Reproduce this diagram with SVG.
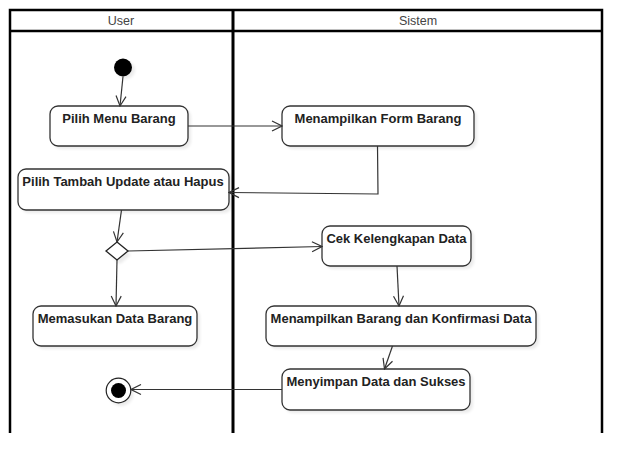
<svg xmlns="http://www.w3.org/2000/svg" width="642" height="474" viewBox="0 0 642 474">
<style>
.lane{fill:none;stroke:#000;stroke-width:2.5}
.hdr{font-family:"Liberation Sans",Arial,sans-serif;font-size:12.5px;fill:#444;text-anchor:middle}
.act{fill:#fff;stroke:#333;stroke-width:1.3}
.shadow{fill:#000;opacity:0.08}
.lbl{font-family:"Liberation Sans",Arial,sans-serif;font-size:13px;font-weight:bold;fill:#222;text-anchor:middle}
.edge{fill:none;stroke:#333;stroke-width:1.2;marker-end:url(#arr)}
</style>
<defs>
<marker id="arr" viewBox="0 0 12 12" refX="11" refY="6" markerWidth="12" markerHeight="12" markerUnits="userSpaceOnUse" orient="auto">
<path d="M1,1 L11,6 L1,11" fill="none" stroke="#333" stroke-width="1.2"/>
</marker>
<filter id="blur" x="-20%" y="-20%" width="140%" height="140%"><feGaussianBlur stdDeviation="1.5"/></filter>
</defs>
<rect width="642" height="474" fill="#fff"/>
<g id="swimlanes">
<path class="lane" d="M10,433 V10 H602 V433 M10,31 H602"/>
<line x1="233" y1="10" x2="233" y2="433" stroke="#000" stroke-width="3"/>
<text class="hdr" x="121" y="25">User</text>
<text class="hdr" x="418" y="25">Sistem</text>
</g>
<g id="start">
<circle cx="126" cy="70" r="9" fill="#000" opacity="0.08" filter="url(#blur)"/>
<circle cx="123" cy="67.5" r="9" fill="#000"/>
</g>
<g id="pilih-menu">
<rect class="shadow" x="53" y="109" width="138" height="40" rx="8" filter="url(#blur)"/>
<rect class="act" x="50" y="106" width="138" height="40" rx="8"/>
<text class="lbl" x="119" y="123">Pilih Menu Barang</text>
</g>
<g id="form-barang">
<rect class="shadow" x="285" y="109" width="192" height="40" rx="8" filter="url(#blur)"/>
<rect class="act" x="282" y="106" width="192" height="40" rx="8"/>
<text class="lbl" x="378" y="123">Menampilkan Form Barang</text>
</g>
<g id="pilih-tambah">
<rect class="shadow" x="21" y="172" width="211" height="41" rx="8" filter="url(#blur)"/>
<rect class="act" x="18" y="169" width="211" height="41" rx="8"/>
<text class="lbl" x="123" y="186">Pilih Tambah Update atau Hapus</text>
</g>
<g id="decision">
<path d="M120,246 L131,255 L120,264 L109,255 Z" fill="#000" opacity="0.08" filter="url(#blur)"/>
<path d="M117,242 L128,251 L117,260 L106,251 Z" fill="#fff" stroke="#222" stroke-width="1.3"/>
</g>
<g id="cek-data">
<rect class="shadow" x="325" y="229" width="149" height="40" rx="8" filter="url(#blur)"/>
<rect class="act" x="322" y="226" width="149" height="40" rx="8"/>
<text class="lbl" x="396.5" y="243">Cek Kelengkapan Data</text>
</g>
<g id="memasukan">
<rect class="shadow" x="36" y="309" width="164" height="40" rx="8" filter="url(#blur)"/>
<rect class="act" x="33" y="306" width="164" height="40" rx="8"/>
<text class="lbl" x="115" y="323">Memasukan Data Barang</text>
</g>
<g id="konfirmasi">
<rect class="shadow" x="269" y="309" width="270" height="40" rx="8" filter="url(#blur)"/>
<rect class="act" x="266" y="306" width="270" height="40" rx="8"/>
<text class="lbl" x="401" y="323">Menampilkan Barang dan Konfirmasi Data</text>
</g>
<g id="menyimpan">
<rect class="shadow" x="285" y="372" width="188" height="41" rx="8" filter="url(#blur)"/>
<rect class="act" x="282" y="369" width="188" height="41" rx="8"/>
<text class="lbl" x="376" y="386">Menyimpan Data dan Sukses</text>
</g>
<g id="end">
<circle cx="121" cy="393.5" r="12.5" fill="#000" opacity="0.08" filter="url(#blur)"/>
<circle cx="118.5" cy="390.5" r="12.3" fill="#fff" stroke="#222" stroke-width="1.2"/>
<circle cx="118.5" cy="390.5" r="7.5" fill="#000"/>
</g>
<g id="connectors">
<path class="edge" d="M123,76.5 L120,106"/>
<path class="edge" d="M188,126 L282,126"/>
<path class="edge" d="M377.5,146 L378,194 L229,192.5"/>
<path class="edge" d="M121.5,210 L117,242"/>
<path class="edge" d="M128,251 L322,246.5"/>
<path class="edge" d="M117,260 L116,306"/>
<path class="edge" d="M397,266 L399,306"/>
<path class="edge" d="M392.5,346 L384.5,369"/>
<path class="edge" d="M282,389.5 L131,389.5"/>
</g>
</svg>
